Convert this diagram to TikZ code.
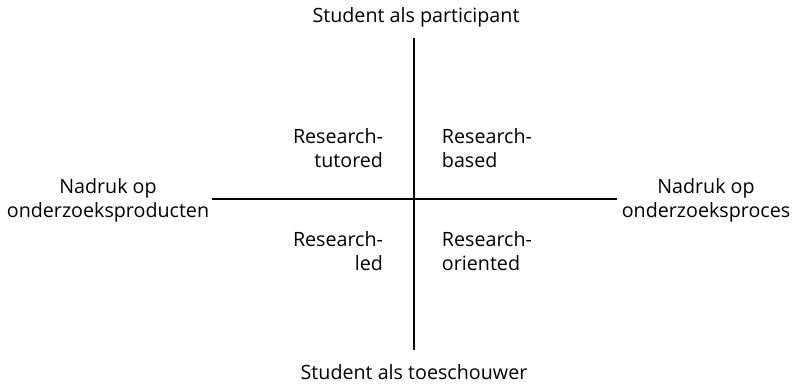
\documentclass[tikz,border=0pt]{standalone}
\usepackage{fontspec}
\setmainfont{Open Sans}
\begin{document}
\begin{tikzpicture}[x=0.025cm,y=-0.025cm]

      \useasboundingbox (0,0) rectangle (793,388);

      \begin{scope}[every node/.style={align=center,font=\fontsize{14}{17}\selectfont}]
        \node (top)   at (416,17)  {Student als participant};
        \node (bot)   at (414,372) {Student als toeschouwer};
        \node (left)  at (108,200) {Nadruk op\\onderzoeksproducten};
        \node (right) at (706,200) {Nadruk op\\onderzoeksproces};
      \end{scope}

      \begin{scope}[every node/.style={font=\fontsize{14}{17}\selectfont}]
        \node[align=right,anchor=east] (tl) at (388,148) {Research-\\tutored};
        \node[align=left,anchor=west]  (tr) at (437,148) {Research-\\based};
        \node[align=right,anchor=east] (bl) at (388,251) {Research-\\led};
        \node[align=left,anchor=west]  (br) at (437,251) {Research-\\oriented};
      \end{scope}

      \coordinate (n) at (414,38);
      \coordinate (s) at (414,350);
      \coordinate (w) at (212,199);
      \coordinate (e) at (617,199);

      \begin{scope}[every edge/.style={draw,line width=0.8pt}]
        \path (n) edge (s);
        \path (w) edge (e);
      \end{scope}

    \end{tikzpicture}
\end{document}
